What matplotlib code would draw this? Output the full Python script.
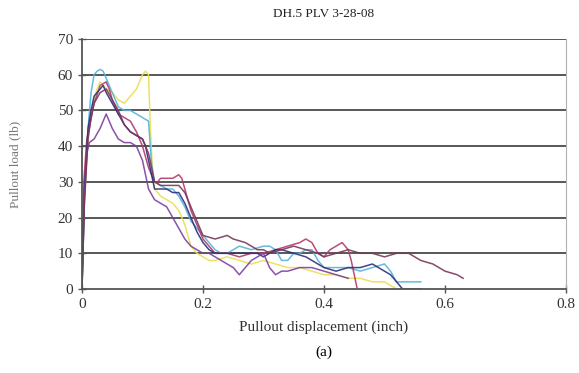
import matplotlib
matplotlib.use("Agg")
import matplotlib.pyplot as plt

plt.rcParams['font.family'] = ['Liberation Serif', 'DejaVu Serif']

title = "DH.5 PLV 3-28-08"
xlabel = "Pullout displacement (inch)"
ylabel = "Pullout load (lb)"
caption = "(a)"
xticks = [0, 0.2, 0.4, 0.6, 0.8]
xticklabels = ["0", "0.2", "0.4", "0.6", "0.8"]
yticks = [0, 10, 20, 30, 40, 50, 60, 70]

yellow_x = [0, 0.003, 0.008, 0.012, 0.018, 0.025, 0.03, 0.035, 0.04, 0.05, 0.06, 0.07, 0.08, 0.09, 0.1, 0.105, 0.11, 0.113, 0.117, 0.12, 0.13, 0.14, 0.15, 0.16, 0.17, 0.18, 0.19, 0.2, 0.21, 0.22, 0.24, 0.26, 0.28, 0.3, 0.32, 0.34, 0.36, 0.38, 0.4, 0.42, 0.44, 0.46, 0.48, 0.5, 0.51, 0.52]
yellow_y = [0, 20, 38, 45, 52, 56, 58, 57, 56, 55, 53, 52, 54, 56, 60, 61, 60, 45, 32, 28, 26, 25, 24, 22, 18, 12, 10, 9, 8, 8, 9, 8, 7, 8, 7, 6, 6, 5, 4, 4, 3, 3, 2, 2, 1, 0]

cyan_x = [0, 0.004, 0.01, 0.015, 0.02, 0.025, 0.03, 0.035, 0.04, 0.05, 0.06, 0.07, 0.08, 0.09, 0.1, 0.11, 0.115, 0.12, 0.13, 0.14, 0.15, 0.16, 0.17, 0.18, 0.19, 0.2, 0.21, 0.22, 0.23, 0.24, 0.25, 0.26, 0.28, 0.3, 0.31, 0.32, 0.33, 0.34, 0.35, 0.36, 0.37, 0.38, 0.39, 0.4, 0.42, 0.44, 0.46, 0.48, 0.5, 0.51, 0.52, 0.53, 0.56]
cyan_y = [0, 25, 45, 55, 60, 61, 61.5, 61, 59, 55, 51, 50, 50, 49, 48, 47, 35, 30, 29, 28, 28, 26, 23, 19, 17, 15, 13, 11, 10, 10, 11, 12, 11, 12, 12, 11, 8, 8, 10, 10, 11, 11, 8, 6, 6, 6, 5, 6, 7, 5, 2, 2, 2]

crimson_x = [0, 0.003, 0.008, 0.012, 0.02, 0.03, 0.04, 0.045, 0.05, 0.06, 0.07, 0.08, 0.09, 0.1, 0.11, 0.12, 0.125, 0.13, 0.14, 0.15, 0.16, 0.165, 0.17, 0.18, 0.19, 0.2, 0.21, 0.22, 0.24, 0.26, 0.28, 0.3, 0.32, 0.34, 0.36, 0.37, 0.38, 0.39, 0.4, 0.41, 0.42, 0.43, 0.44, 0.445, 0.45, 0.455]
crimson_y = [0, 30, 42, 45, 52, 57, 58, 56, 53, 49, 48, 47, 44, 40, 34, 30, 30, 31, 31, 31, 32, 31, 28, 22, 18, 14, 12, 10, 10, 9, 10, 10, 11, 12, 13, 14, 13, 10, 9, 11, 12, 13, 11, 8, 4, 0]

navy_x = [0, 0.004, 0.01, 0.015, 0.02, 0.03, 0.035, 0.04, 0.05, 0.06, 0.07, 0.08, 0.09, 0.1, 0.105, 0.11, 0.12, 0.13, 0.14, 0.15, 0.16, 0.17, 0.18, 0.19, 0.2, 0.21, 0.22, 0.23, 0.24, 0.25, 0.27, 0.29, 0.3, 0.31, 0.32, 0.33, 0.35, 0.37, 0.38, 0.4, 0.42, 0.44, 0.46, 0.48, 0.5, 0.51, 0.52, 0.53, 0.56]
navy_y = [0, 28, 45, 50, 54, 56, 57, 55, 52, 49, 46, 44, 43, 42, 40, 36, 28, 28, 28, 27, 27, 24, 20, 16, 13, 11, 10, 10, 10, 10, 10, 10, 9, 10, 11, 11, 10, 9, 8, 6, 5, 6, 6, 7, 5, 4, 2, 0, 0]

purple_x = [0, 0.004, 0.008, 0.012, 0.02, 0.03, 0.04, 0.045, 0.05, 0.06, 0.07, 0.08, 0.09, 0.1, 0.11, 0.12, 0.13, 0.14, 0.15, 0.16, 0.17, 0.18, 0.19, 0.2, 0.21, 0.22, 0.23, 0.24, 0.25, 0.26, 0.27, 0.28, 0.29, 0.3, 0.31, 0.32, 0.33, 0.34, 0.36, 0.38, 0.4, 0.42, 0.44]
purple_y = [0, 26, 38, 41, 42, 45, 49, 47, 45, 42, 41, 41, 40, 36, 28, 25, 24, 23, 20, 17, 14, 12, 11, 10, 10, 9, 8, 7, 6, 4, 6, 8, 9, 10, 6, 4, 5, 5, 6, 6, 5, 4, 3]

maroon_x = [0, 0.004, 0.01, 0.015, 0.02, 0.03, 0.04, 0.05, 0.06, 0.07, 0.08, 0.09, 0.1, 0.11, 0.12, 0.13, 0.14, 0.15, 0.16, 0.17, 0.18, 0.19, 0.2, 0.22, 0.24, 0.25, 0.27, 0.29, 0.3, 0.31, 0.33, 0.35, 0.37, 0.39, 0.4, 0.42, 0.44, 0.46, 0.48, 0.5, 0.52, 0.54, 0.55, 0.56, 0.58, 0.6, 0.62, 0.63]
maroon_y = [0, 24, 42, 48, 52, 55, 56, 53, 50, 46, 44, 43, 42, 38, 30, 29, 29, 29, 29, 27, 23, 19, 15, 14, 15, 14, 13, 11, 11, 10, 11, 12, 11, 10, 9, 10, 11, 10, 10, 9, 10, 10, 9, 8, 7, 5, 4, 3]

series = [
    (yellow_x, yellow_y, "#e8e050"),
    (cyan_x, cyan_y, "#55b4d8"),
    (crimson_x, crimson_y, "#b03a6a"),
    (navy_x, navy_y, "#2c2f7c"),
    (purple_x, purple_y, "#7d3fa0"),
    (maroon_x, maroon_y, "#7a3658"),
]

fig = plt.figure(figsize=(5.79, 3.73), dpi=100)
ax = fig.add_axes([0.1416, 0.2252, 0.8359, 0.6702])

for y in yticks[1:]:
    ax.axhline(y, color="#4a4a4a", lw=1.3, zorder=1)

for xs, ys, c in series:
    ax.plot(xs, ys, color=c, lw=1.1, alpha=0.9, zorder=2)

ax.set_xlim(0, 0.8)
ax.set_ylim(0, 70)
ax.set_xticks(xticks)
ax.set_xticklabels(xticklabels)
ax.set_yticks(yticks)

ax.spines['top'].set_visible(False)
ax.spines['right'].set_color("#b0b0b0")
ax.spines['left'].set_color("#555555")
ax.spines['bottom'].set_color("#555555")
for s in ['left', 'bottom']:
    ax.spines[s].set_linewidth(1.3)
ax.tick_params(axis='both', direction='inout', length=6, width=1, color="#555555",
               labelsize=11, labelcolor="#333333")

ax.set_title(title, fontsize=9.5, color="#222222", pad=16)
ax.set_xlabel(xlabel, fontsize=11, color="#333333", labelpad=7)
ax.set_ylabel(ylabel, fontsize=9.5, color="#777777", labelpad=26)
fig.text(0.5 * (0.1416 + 0.9775), 0.045, caption, ha='center', fontsize=11, color="black")

fig.savefig("out.png", dpi=100)
